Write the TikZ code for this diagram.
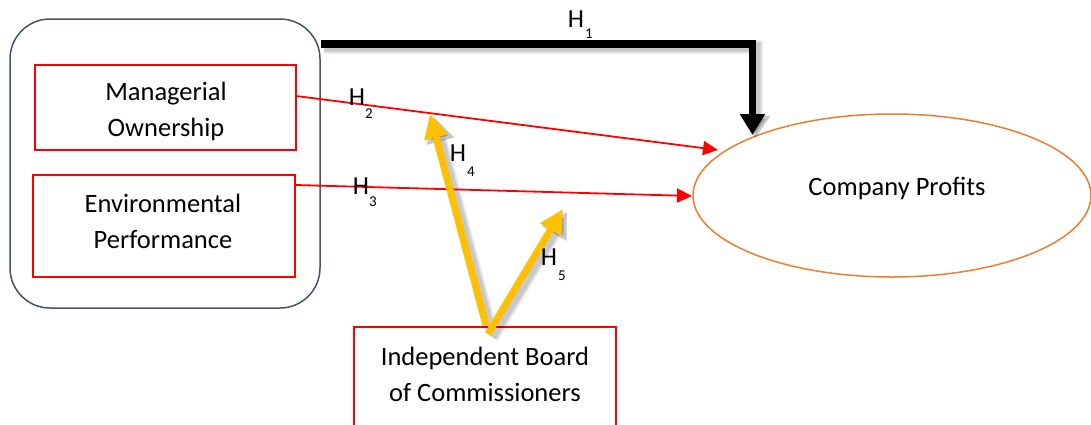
\documentclass[tikz,border=0pt]{standalone}
\usepackage{fontspec}
\setmainfont{Carlito}
\usetikzlibrary{arrows.meta,shapes.geometric}
\definecolor{slate}{HTML}{44546A}
\definecolor{orng}{HTML}{ED7D31}
\definecolor{gold}{HTML}{FFC000}
\definecolor{redl}{HTML}{FF0000}
\tikzset{
  varbox/.style={draw=redl, line width=1.4pt, inner sep=0pt},
  txt/.style={inner sep=0pt, align=center, font=\fontsize{26.5}{36}\selectfont},
  hl/.style={inner sep=0pt, font=\fontsize{26}{26}\selectfont},
  hs/.style={inner sep=0pt, font=\fontsize{15}{15}\selectfont},
  redarrow/.style={draw=redl, line width=1.8pt, -{Triangle[length=15pt,width=14pt]}},
  blackarrow/.style={draw=black, line width=7.5pt, -{Triangle[length=21pt,width=24pt]}},
  goldarrow/.style={draw=gold, line width=7pt, -{Triangle[length=24pt,width=23pt]}},
  shadowA/.style={draw=black, opacity=0.06, line width=#1, -{Triangle[length=22pt,width=28pt]}},
  shadowB/.style={draw=black, opacity=0.06, line width=#1, -{Triangle[length=25pt,width=27pt]}},
}
\begin{document}
\begin{tikzpicture}[x=1pt,y=-1pt]
\useasboundingbox (0,0) rectangle (1091,424);
\begin{scope}
\clip (0,0) rectangle (1091,424);
% group box
\node[draw=slate, line width=1.5pt, rounded corners=40pt, minimum width=310pt, minimum height=289pt, inner sep=0pt] (group) at (165,163.5) {};
\node[varbox, minimum width=261pt, minimum height=85pt] (mo) at (165.5,107.5) {};
\node[txt] (motext) at (166,111) {Managerial\\Ownership};
\node[varbox, minimum width=262pt, minimum height=102pt] (ep) at (164,226) {};
\node[txt] (eptext) at (163,221) {Environmental\\Performance};
% outcome
\node[draw=orng, line width=1.5pt, ellipse, minimum width=398pt, minimum height=163pt, inner sep=0pt] (cp) at (892,195.5) {};
\node[txt] (cptext) at (897,188) {Company Profits};
% moderator
\node[varbox, minimum width=262pt, minimum height=130pt] (board) at (485,392) {};
\node[txt] (boardtext) at (485,374) {Independent Board\\of Commissioners};
\end{scope}
% coordinates
\coordinate (h1a) at (321,44);
\coordinate (h1b) at (752.5,44);
\coordinate (h1c) at (752.5,135);
\coordinate (h2a) at (296,96);
\coordinate (h2b) at (718,150);
\coordinate (h3a) at (296,185);
\coordinate (h3b) at (692,196);
\coordinate (h4a) at (486,325);
\coordinate (h4b) at (430,114);
\coordinate (h5a) at (488,334);
\coordinate (h5b) at (563,209);
% shadows (soft, layered)
\foreach \w in {8pt,10pt,12pt,14pt}{
  \draw[shadowA=\w] ([shift={(3,3)}]h1a) -- ([shift={(3,3)}]h1b) -- ([shift={(3,3)}]h1c);
  \draw[shadowB=\w] ([shift={(4,3)}]h4a) -- ([shift={(4,3)}]h4b);
  \draw[shadowB=\w] ([shift={(4,3)}]h5a) -- ([shift={(4,3)}]h5b);
}
% arrows
\draw[blackarrow] (h1a) -- (h1b) -- (h1c);
\draw[redarrow] (h2a) -- (h2b);
\draw[redarrow] (h3a) -- (h3b);
\draw[goldarrow] (h4a) -- (h4b);
\draw[goldarrow] (h5a) -- (h5b);
% labels
\node[hl] (l1) at (576,19) {H};  \node[hs] (s1) at (589,34) {1};
\node[hl] (l2) at (357,97) {H};  \node[hs] (s2) at (369,114) {2};
\node[hl] (l3) at (361,186) {H}; \node[hs] (s3) at (373,202) {3};
\node[hl] (l4) at (458,153) {H}; \node[hs] (s4) at (471,172) {4};
\node[hl] (l5) at (549,257) {H}; \node[hs] (s5) at (562,276) {5};
\end{tikzpicture}
\end{document}
